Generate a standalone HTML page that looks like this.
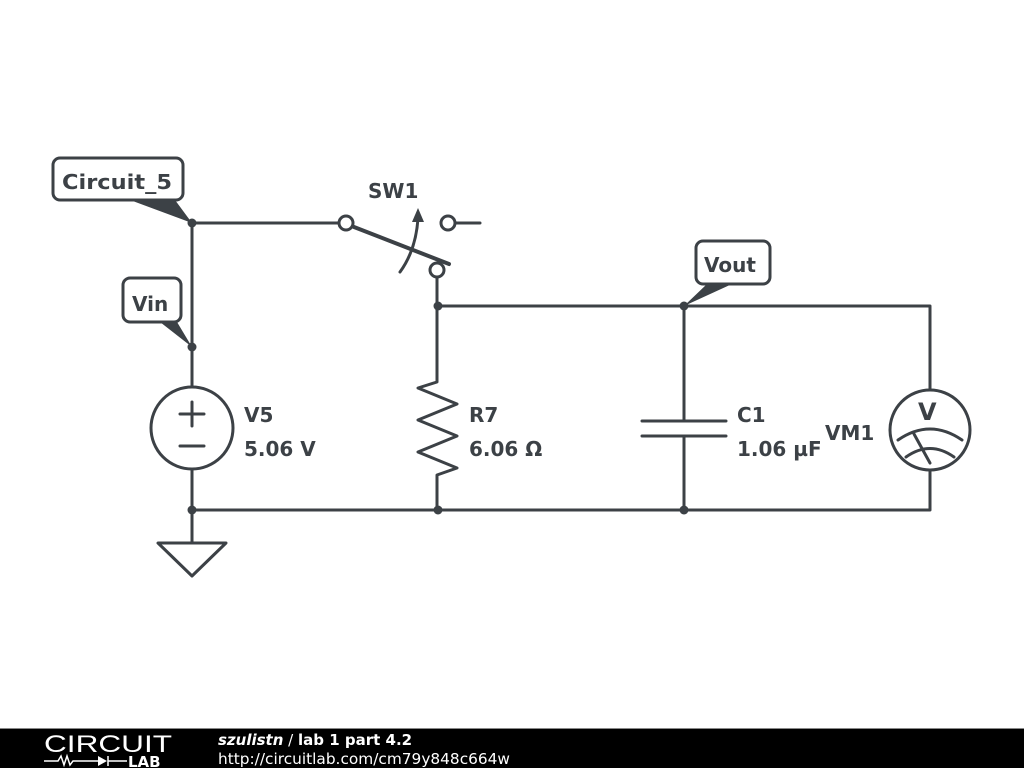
<!DOCTYPE html>
<html><head><meta charset="utf-8"><style>
html,body{margin:0;padding:0;background:#fff;}
body{width:1024px;height:768px;overflow:hidden;position:relative;}
svg{position:absolute;left:0;top:0;}
</style></head><body>
<svg width="1024" height="768" viewBox="0 0 1024 768" xmlns="http://www.w3.org/2000/svg" font-family="DejaVu Sans, Liberation Sans, sans-serif">
<g stroke="#3c4146" stroke-width="3" fill="none" stroke-linecap="round" stroke-linejoin="round">
<path d="M192 223 H339"/>
<path d="M192 223 V387"/>
<path d="M192 469 V543"/>
<path d="M158 543 H226 L192 576 Z"/>
<path d="M192 510 H930 V470"/>
<path d="M930 390 V306 H438"/>
<path d="M437 277 V382 L418 388 L457 404 L418 420 L457 436 L418 452 L457 468 L437 475 V510"/>
<path d="M684 306 V421 M684 436 V510"/>
<path d="M642 421 H726 M642 436 H726"/>
<path d="M455 223 H480"/>
<circle cx="346" cy="223" r="7" fill="#fff"/>
<circle cx="448" cy="223" r="7" fill="#fff"/>
<circle cx="437" cy="270" r="7" fill="#fff"/>
<path d="M354 227 L449 264" stroke-width="4"/>
<path d="M400 272 Q416 250 418 218"/>
<circle cx="192" cy="428" r="41"/>
<path d="M180 414 H204 M192 402 V426 M180 446 H204"/>
<circle cx="930" cy="430" r="40"/>
<path d="M898 440 Q930 418 962 440 M906 457 Q930 440 954 457 M914 434 L930 463"/>
<rect x="53" y="158" width="130" height="42" rx="7" fill="#fff"/>
<rect x="123" y="278" width="58" height="44" rx="7" fill="#fff"/>
<rect x="696" y="241" width="74" height="43" rx="7" fill="#fff"/>
</g>
<g fill="#3c4146">
<path d="M130 200 L175 200 L192 223 Z"/>
<path d="M160 322 L177 322 L192 347 Z"/>
<path d="M707 284 L732 284 L684 306 Z"/>
<path d="M418 208 L412 222 L424 222 Z"/>
<circle cx="192" cy="223" r="4.5"/>
<circle cx="192" cy="347" r="4.5"/>
<circle cx="438" cy="306" r="4.5"/>
<circle cx="684" cy="306" r="4.5"/>
<circle cx="192" cy="510" r="4.5"/>
<circle cx="438" cy="510" r="4.5"/>
<circle cx="684" cy="510" r="4.5"/>
</g>
<g fill="#3c4146" font-weight="bold" font-size="20">
<text x="62" y="189" textLength="110" lengthAdjust="spacingAndGlyphs">Circuit_5</text>
<text x="132" y="311">Vin</text>
<text x="704" y="272">Vout</text>
<text x="368" y="198">SW1</text>
<text x="244" y="422">V5</text>
<text x="244" y="456">5.06 V</text>
<text x="469" y="422">R7</text>
<text x="469" y="456">6.06 Ω</text>
<text x="737" y="422">C1</text>
<text x="737" y="456">1.06 µF</text>
<text x="825" y="440">VM1</text>
<text x="918" y="420" font-size="24">V</text>
</g>
<rect x="0" y="729" width="1024" height="39" fill="#000"/>
<rect x="0" y="728" width="1024" height="1" fill="#888"/>
<text x="44" y="752" fill="#fff" font-size="24" font-family="Liberation Sans, sans-serif" textLength="128" lengthAdjust="spacingAndGlyphs">CIRCUIT</text>
<g stroke="#fff" stroke-width="1.5" fill="none"><path d="M44 761 H58 L61 756 L64 765 L67 756 L70 765 L73 761 H98 M108 756 V766 M108 761 H127"/></g>
<path d="M98 756 L107 761 L98 766 Z" fill="#fff"/>
<text x="128" y="767" fill="#fff" font-size="15" font-weight="bold">LAB</text>
<text x="218" y="745" fill="#fff" font-size="15"><tspan font-style="italic" font-weight="bold">szulistn</tspan> / <tspan font-weight="bold">lab 1 part 4.2</tspan></text>
<text x="218" y="764" fill="#fff" font-size="15" textLength="292" lengthAdjust="spacingAndGlyphs">http://circuitlab.com/cm79y848c664w</text>
</svg>
</body></html>
